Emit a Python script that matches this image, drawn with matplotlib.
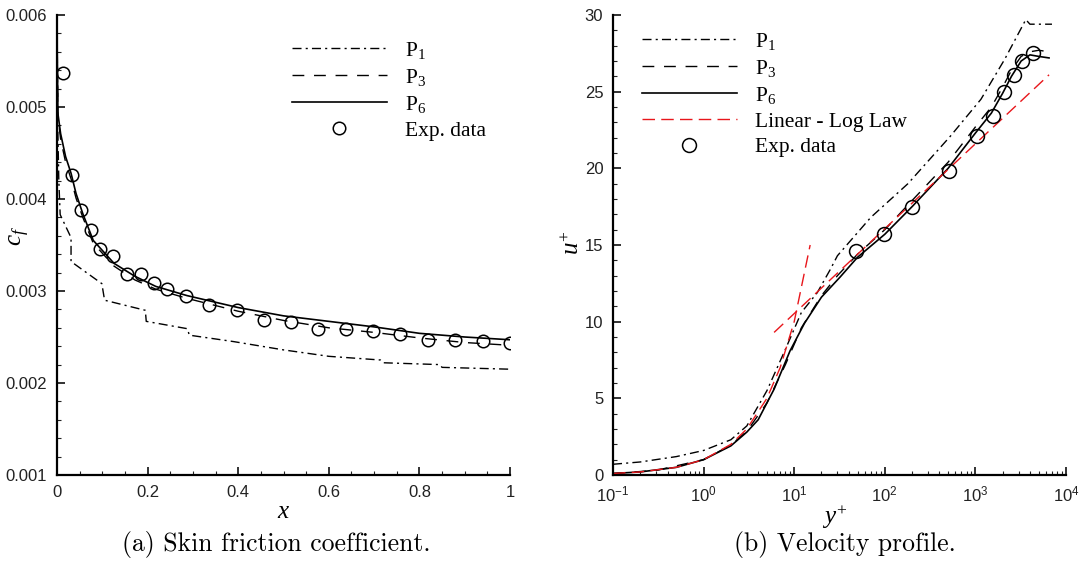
import numpy as np
import matplotlib
matplotlib.use("Agg")
import matplotlib.pyplot as plt
from matplotlib.ticker import MultipleLocator, LogLocator, FuncFormatter, NullFormatter

# Times-like maths so the subscripts and axis labels match the legend text
plt.rcParams['mathtext.fontset'] = 'custom'
plt.rcParams['mathtext.rm'] = 'Liberation Serif'
plt.rcParams['mathtext.it'] = 'Liberation Serif:italic'
plt.rcParams['mathtext.bf'] = 'Liberation Serif:bold'

# ---- (a) skin friction coefficient ----
x_p1 = [0.0, 0.002, 0.004, 0.007, 0.031, 0.031, 0.099, 0.105, 0.195, 0.197, 0.288, 0.292,
        0.39, 0.5, 0.6, 0.714, 0.72, 0.845, 0.85, 1.0]
cf_p1 = [0.0060, 0.0047, 0.0042, 0.00383, 0.00358, 0.00332, 0.00308, 0.00290, 0.00279, 0.00267,
         0.00259, 0.00252, 0.00245, 0.00236, 0.00229, 0.00225, 0.00222, 0.00220, 0.00217, 0.00215]

x_p3 = [0.0, 0.0005, 0.002, 0.008, 0.019, 0.031, 0.042, 0.057, 0.08, 0.126, 0.172, 0.218,
        0.287, 0.4, 0.5, 0.6, 0.7, 0.8, 0.9, 1.0]
cf_p3 = [0.0065, 0.0055, 0.0049, 0.00465, 0.0044, 0.00422, 0.00401, 0.0038, 0.00352, 0.00327,
         0.00312, 0.00302, 0.00292, 0.00278, 0.00268, 0.0026, 0.00255, 0.00249, 0.00244, 0.00241]

x_p6 = [0.0, 0.0005, 0.002, 0.008, 0.019, 0.031, 0.042, 0.057, 0.08, 0.126, 0.172, 0.218,
        0.287, 0.4, 0.5, 0.6, 0.7, 0.8, 0.9, 1.0]
cf_p6 = [0.0065, 0.0056, 0.00493, 0.00471, 0.00446, 0.00428, 0.00406, 0.00384, 0.00355, 0.0033,
         0.00316, 0.00305, 0.00295, 0.00282, 0.00273, 0.00267, 0.00261, 0.00254, 0.0025, 0.00247]

x_exp = [0.014, 0.034, 0.054, 0.075, 0.095, 0.124, 0.155, 0.185, 0.214, 0.243, 0.285, 0.336,
         0.397, 0.456, 0.517, 0.577, 0.637, 0.697, 0.757, 0.818, 0.879, 0.94, 1.0]
cf_exp = [0.00537, 0.00426, 0.00388, 0.00366, 0.00346, 0.00338, 0.00318, 0.00318, 0.00309, 0.00302,
          0.00295, 0.00285, 0.00279, 0.00269, 0.00266, 0.00259, 0.00259, 0.00256, 0.00253, 0.00247,
          0.00247, 0.00246, 0.00243]

# ---- (b) velocity profile ----
yp_p1 = [0.1, 0.2, 0.5, 1, 2, 3, 5, 8, 12, 18, 25, 30, 70, 180, 530, 1150, 2100, 3600, 4000, 7000]
up_p1 = [0.7, 0.85, 1.2, 1.6, 2.3, 3.2, 5.5, 8.2, 10.6, 11.9, 13.4, 14.3, 16.8, 19.0, 22.1, 24.5,
         27.1, 29.7, 29.4, 29.4]

yp_p3 = [0.1, 0.3, 1, 2, 3, 5, 8, 12, 20, 30, 50, 100, 200, 500, 1000, 1500, 2000, 2500, 3200,
         4000, 5000, 6500]
up_p3 = [0.1, 0.3, 1.0, 1.95, 2.85, 4.7, 7.2, 9.6, 11.7, 13.0, 14.4, 16.0, 17.9, 20.4, 22.7, 24.0,
         25.3, 26.4, 27.3, 27.6, 27.7, 27.6]

yp_p6 = [0.1, 0.2, 0.5, 1, 2, 3, 4, 6, 9, 13, 20, 32, 50, 100, 200, 500, 1000, 1500, 2000, 2500,
         3200, 4000, 5000, 6500]
up_p6 = [0.1, 0.2, 0.5, 1.0, 1.9, 2.8, 3.6, 5.6, 8.1, 9.9, 11.6, 12.9, 14.2, 15.7, 17.5, 20.0,
         22.3, 23.6, 24.9, 26.0, 27.0, 27.4, 27.3, 27.2]

yp_lin = [0.1, 0.2, 0.5, 1, 2, 3, 5, 7, 10, 15]
up_lin = [0.1, 0.2, 0.5, 1, 2, 3, 5, 7, 10, 15]
yp_log = [6, 6500]
up_log = [9.3, 26.1]

yp_exp = [48, 98, 200, 510, 1050, 1570, 2080, 2640, 3230, 4280]
up_exp = [14.6, 15.7, 17.5, 19.8, 22.1, 23.4, 25.0, 26.1, 27.0, 27.5]

ls_p1 = (0, (6.5, 3.0, 1.5, 3.0))
ls_p3 = (0, (8.5, 7.0))
ls_red = (0, (9.0, 4.5))

tick_font = dict(family='Liberation Sans', size=12)
leg_font = dict(family='Liberation Serif', size=15.5)

fig = plt.figure(figsize=(10.89, 5.65), dpi=100)
ax1 = fig.add_axes([57 / 1089, 90 / 565, 453 / 1089, 460 / 565])
ax2 = fig.add_axes([613 / 1089, 90 / 565, 453 / 1089, 460 / 565])

for ax in (ax1, ax2):
    ax.spines['top'].set_visible(False)
    ax.spines['right'].set_visible(False)
    ax.spines['left'].set_linewidth(1.6)
    ax.spines['bottom'].set_linewidth(1.6)
    ax.tick_params(which='both', direction='in', top=False, right=False, width=1.3, colors='#222222')
    ax.tick_params(which='major', length=6, pad=7)
    ax.tick_params(which='minor', length=3, width=0.8)
    ax.patch.set_alpha(0)

# panel (a)
ax1.plot(x_p1, cf_p1, color='black', lw=1.0, ls=ls_p1, label=r'P$_{\mathit{1}}$')
ax1.plot(x_p3, cf_p3, color='black', lw=1.0, ls=ls_p3, label=r'P$_{\mathit{3}}$')
ax1.plot(x_p6, cf_p6, color='black', lw=1.2, ls='-', label=r'P$_{\mathit{6}}$')
ax1.plot(x_exp, cf_exp, ls='none', marker='o', ms=9, mfc='none', mec='black', mew=1.1,
         label='Exp. data')
ax1.set_xlim(0, 1)
ax1.set_ylim(0.001, 0.006)
ax1.xaxis.set_major_locator(MultipleLocator(0.2))
ax1.xaxis.set_minor_locator(MultipleLocator(0.05))
ax1.yaxis.set_major_locator(MultipleLocator(0.001))
ax1.yaxis.set_minor_locator(MultipleLocator(0.0002))
ax1.xaxis.set_major_formatter(FuncFormatter(lambda v, p: '%g' % round(v, 3)))
ax1.yaxis.set_major_formatter(FuncFormatter(lambda v, p: '%.3f' % v))
ax1.set_xlabel(r'$x$', fontsize=18)
ax1.set_ylabel(r'$c_f$', fontsize=18)
ax1.xaxis.set_label_coords(0.5, -24 / 460)
ax1.yaxis.set_label_coords(-25 / 453, 0.52)
ax1.legend(loc='upper left', bbox_to_anchor=(292 / 1089, 1 - 40 / 565),
           bbox_transform=fig.transFigure, frameon=False, prop=leg_font,
           handlelength=4.4, handletextpad=0.85, labelspacing=0.27,
           borderpad=0, borderaxespad=0)

# panel (b)
ax2.plot(yp_p1, up_p1, color='black', lw=1.0, ls=ls_p1, label=r'P$_{\mathit{1}}$')
ax2.plot(yp_p3, up_p3, color='black', lw=1.0, ls=ls_p3, label=r'P$_{\mathit{3}}$')
ax2.plot(yp_p6, up_p6, color='black', lw=1.2, ls='-', label=r'P$_{\mathit{6}}$')
ax2.plot(yp_lin, up_lin, color='#e8161b', lw=1.0, ls=ls_red, label='Linear - Log Law')
ax2.plot(yp_log, up_log, color='#e8161b', lw=1.0, ls=ls_red)
ax2.plot(yp_exp, up_exp, ls='none', marker='o', ms=10, mfc='none', mec='black', mew=1.1,
         label='Exp. data')
ax2.set_xscale('log')
ax2.set_xlim(0.1, 1e4)
ax2.set_ylim(0, 30)
ax2.xaxis.set_major_locator(LogLocator(base=10))
ax2.xaxis.set_minor_locator(LogLocator(base=10, subs=np.arange(2, 10)))
ax2.xaxis.set_minor_formatter(NullFormatter())
ax2.xaxis.set_major_formatter(FuncFormatter(lambda v, p: r'$\mathregular{10^{%d}}$' % round(np.log10(v))))
ax2.yaxis.set_major_locator(MultipleLocator(5))
ax2.yaxis.set_minor_locator(MultipleLocator(1))
ax2.set_xlabel(r'$y^{+}$', fontsize=18)
ax2.set_ylabel(r'$u^{+}$', fontsize=18)
ax2.xaxis.set_label_coords(0.49, -28 / 460)
ax2.yaxis.set_label_coords(-29 / 453, 0.505)
ax2.legend(loc='upper left', bbox_to_anchor=(642 / 1089, 1 - 31 / 565),
           bbox_transform=fig.transFigure, frameon=False, prop=leg_font,
           handlelength=4.4, handletextpad=0.85, labelspacing=0.27,
           borderpad=0, borderaxespad=0)

for ax in (ax1, ax2):
    for lab in ax.get_xticklabels() + ax.get_yticklabels():
        lab.set_fontfamily(tick_font['family'])
        lab.set_fontsize(tick_font['size'])

fig.text(276 / 1089, 1 - 545 / 565, '(a) Skin friction coefficient.', ha='center', va='center',
         fontfamily='cmr10', fontsize=18.5)
fig.text(845 / 1089, 1 - 545 / 565, '(b) Velocity profile.', ha='center', va='center',
         fontfamily='cmr10', fontsize=18.5)

fig.savefig('out.png', dpi=100)
